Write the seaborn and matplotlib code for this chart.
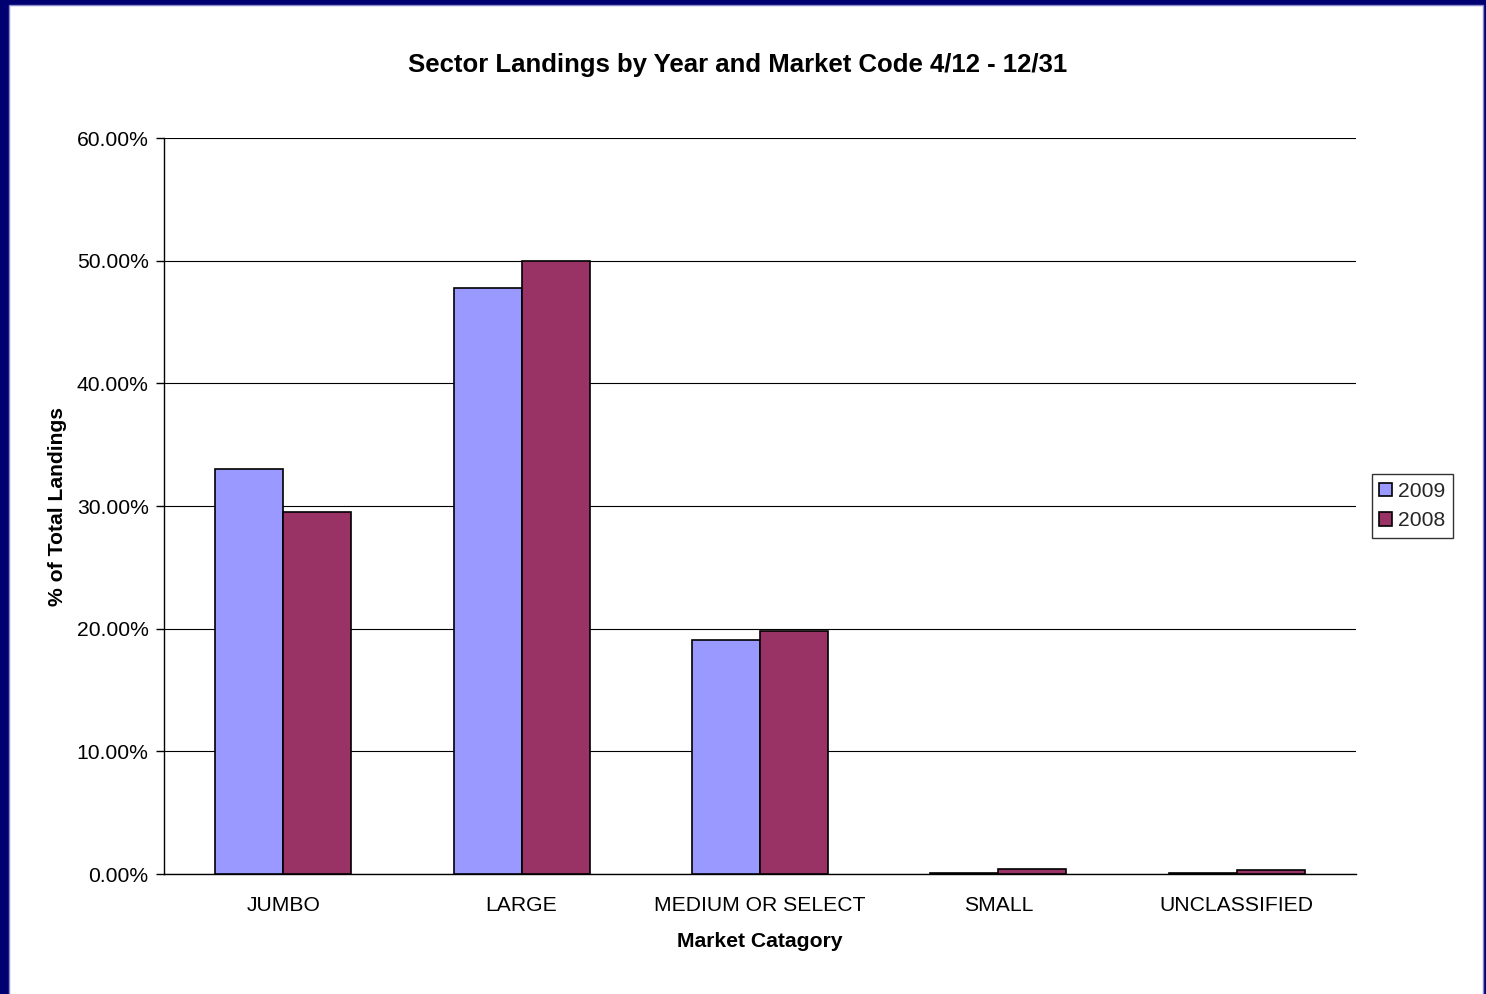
import seaborn as sns
import matplotlib.pyplot as plt
import pandas as pd
from matplotlib.patches import Rectangle
from matplotlib.ticker import PercentFormatter, FixedLocator

categories = ["JUMBO", "LARGE", "MEDIUM OR SELECT", "SMALL", "UNCLASSIFIED"]
years = ["2009", "2008"]
share_2009 = [33.0, 47.75, 19.05, 0.05, 0.1]
share_2008 = [29.5, 50.0, 19.8, 0.4, 0.3]

df = pd.DataFrame({
    "Market": categories * 2,
    "Year": ["2009"] * len(categories) + ["2008"] * len(categories),
    "Share": share_2009 + share_2008,
})

sns.set_theme(style="white")
plt.rcParams["font.family"] = ["Liberation Sans", "DejaVu Sans"]

fs = 15.2

fig = plt.figure(figsize=(14.86, 9.94), dpi=100)
fig.patch.set_facecolor("#000070")
# white chart area inside the navy frame
fig.add_artist(Rectangle((9 / 1486, -0.01), (1483 - 9) / 1486, 0.01 + (994 - 5) / 994,
                         transform=fig.transFigure, facecolor="white",
                         edgecolor="#8888cc", linewidth=1, zorder=0))

ax = fig.add_axes([164 / 1486, 120 / 994, (1356 - 164) / 1486, (874 - 138) / 994])
ax.set_facecolor("white")

sns.barplot(data=df, x="Market", y="Share", hue="Year", hue_order=years,
            palette={"2009": "#9999FF", "2008": "#993366"},
            width=0.57, edgecolor="black", linewidth=1.2, saturation=1,
            ax=ax, legend=True, zorder=3)

ax.set_ylim(0, 60)
ax.set_xlim(-0.5, len(categories) - 0.5)
ax.yaxis.set_major_locator(FixedLocator([0, 10, 20, 30, 40, 50, 60]))
ax.yaxis.set_major_formatter(PercentFormatter(decimals=2))
ax.grid(axis="y", color="black", linewidth=0.8, zorder=0)
ax.set_axisbelow(True)

for side in ["top", "right"]:
    ax.spines[side].set_visible(False)
for side in ["left", "bottom"]:
    ax.spines[side].set_color("black")
    ax.spines[side].set_linewidth(1)

# tick marks between categories, labels centred
ax.set_xticks(range(len(categories)))
ax.set_xticklabels(categories)
ax.set_xticks([i - 0.5 for i in range(len(categories) + 1)], minor=True)
ax.tick_params(axis="x", which="major", length=0, pad=16, labelsize=fs, colors="black")
ax.tick_params(axis="x", which="minor", length=6, width=1, color="black", direction="out")
ax.tick_params(axis="y", which="major", length=6, width=1, color="black",
               direction="out", left=True, pad=5, labelsize=fs, labelcolor="black")

ax.set_xlabel("Market Catagory", fontsize=fs, fontweight="bold", color="black", labelpad=12)
ax.set_ylabel("% of Total Landings", fontsize=fs, fontweight="bold", color="black", labelpad=7)
fig.text(738 / 1486, 1 - 65 / 994, "Sector Landings by Year and Market Code 4/12 - 12/31",
         ha="center", va="center", fontsize=18.5, fontweight="bold", color="black")

handles, labels = ax.get_legend_handles_labels()
ax.legend_.remove()
leg = fig.legend(handles, labels, loc="center left",
                 bbox_to_anchor=(1372 / 1486, 1 - 506 / 994),
                 frameon=True, fancybox=False, fontsize=fs,
                 handlelength=0.6, handleheight=0.6, handletextpad=0.3,
                 borderpad=0.35, labelspacing=0.5, borderaxespad=0)
leg.get_frame().set_edgecolor("black")
leg.get_frame().set_linewidth(1)

fig.savefig("out.png", dpi=100, facecolor=fig.get_facecolor())
